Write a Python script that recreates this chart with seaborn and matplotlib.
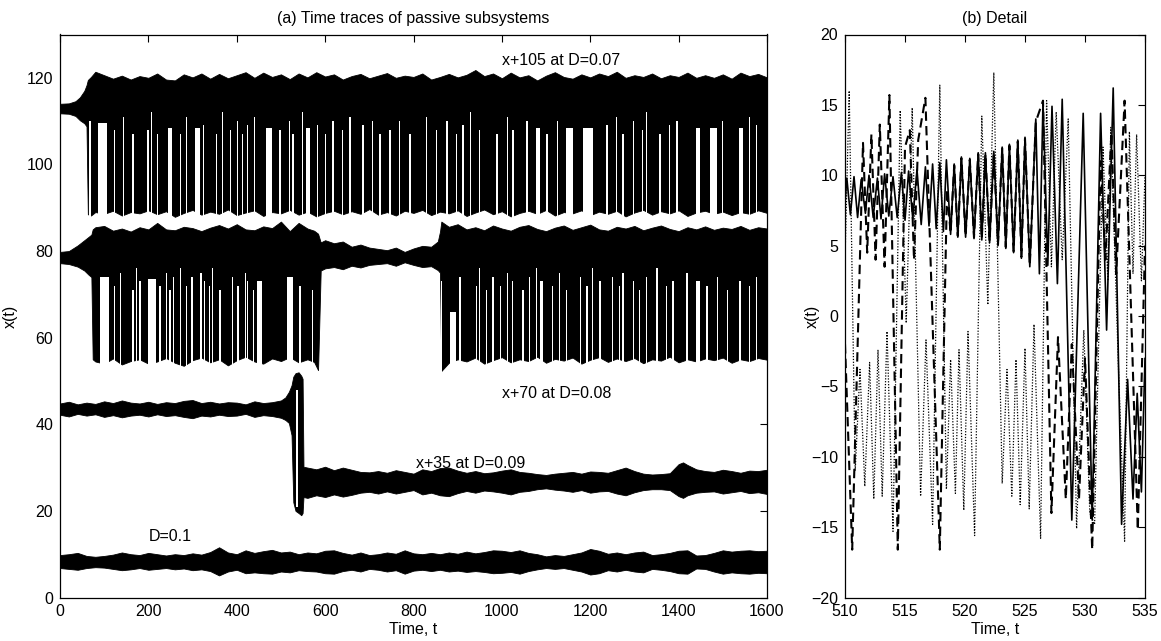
import matplotlib
matplotlib.use("Agg")
import matplotlib.pyplot as plt
import seaborn as sns
import numpy as np
import pandas as pd

# ---------------- Panel (a): envelopes of the four time traces ----------------
# trace 1: x+105 at D=0.07
t1 = [0, 20, 35, 45, 55, 60, 63, 70, 80, 100, 120, 140, 160, 180, 200, 220, 240, 260, 280, 300,
      320, 340, 360, 380, 400, 420, 440, 460, 480, 500, 520, 540, 560, 580, 600, 620, 640, 660,
      680, 700, 720, 740, 760, 780, 800, 820, 840, 860, 880, 900, 920, 940, 960, 980, 1000, 1020,
      1040, 1060, 1080, 1100, 1120, 1140, 1160, 1180, 1200, 1220, 1240, 1260, 1280, 1300, 1320,
      1340, 1360, 1380, 1400, 1420, 1440, 1460, 1480, 1500, 1520, 1540, 1560, 1580, 1600]
up1 = [114.0, 114.1, 114.6, 115.5, 117.0, 118.3, 119.5, 120.2, 121.4, 120.6, 119.8, 120.5, 119.6,
       120.4, 120.0, 121.0, 119.6, 119.4, 120.8, 120.1, 121.0, 119.8, 120.9, 119.9, 120.6, 121.3,
       120.0, 121.2, 120.2, 120.8, 119.7, 121.0, 120.1, 121.3, 120.3, 120.8, 119.6, 120.4, 120.9,
       119.9, 120.5, 121.1, 120.0, 120.5, 120.2, 121.0, 119.6, 120.2, 120.9, 120.1, 120.7, 121.8,
       120.4, 121.0, 119.9, 121.2, 120.1, 120.6, 119.4, 120.5, 121.3, 120.2, 119.8, 120.8, 120.1,
       121.0, 120.4, 121.4, 120.0, 120.6, 120.2, 121.0, 119.9, 120.6, 120.2, 121.2, 120.0, 120.6,
       120.0, 120.8, 119.8, 121.2, 120.4, 120.9, 120.1]
lo1 = [111.8, 111.7, 111.2, 110.2, 109.5, 108.8, 88.5, 88.2, 89.0, 88.6, 89.3, 88.2, 89.0, 88.7,
       89.4, 88.5, 89.2, 87.9, 88.8, 89.5, 88.4, 89.1, 88.6, 89.6, 88.3, 88.9, 89.4, 88.1, 89.0,
       88.7, 89.5, 88.4, 89.1, 88.0, 88.8, 89.3, 88.5, 89.2, 88.6, 89.7, 88.4, 89.0, 88.2, 89.3,
       88.8, 89.5, 88.3, 89.1, 88.7, 89.4, 88.1, 88.9, 89.6, 88.5, 89.2, 88.0, 88.8, 89.3, 88.6,
       89.5, 88.2, 89.0, 88.7, 89.4, 88.3, 89.1, 88.6, 89.3, 88.0, 88.9, 89.5, 88.4, 89.2, 88.7,
       89.4, 88.1, 88.9, 89.3, 88.6, 89.1, 88.3, 89.0, 88.6, 89.4, 88.8]

# trace 2: x+70 at D=0.08
t2 = [0, 20, 40, 55, 65, 71, 74, 80, 100, 120, 140, 160, 180, 200, 220, 240, 260, 280, 300, 320,
      340, 360, 380, 400, 420, 440, 460, 480, 500, 520, 540, 560, 575, 584, 590, 600, 620, 640,
      660, 680, 700, 720, 740, 760, 780, 800, 820, 840, 855, 860, 863, 880, 900, 920, 940, 960,
      980, 1000, 1020, 1040, 1060, 1080, 1100, 1120, 1140, 1160, 1180, 1200, 1220, 1240, 1260,
      1280, 1300, 1320, 1340, 1360, 1380, 1400, 1420, 1440, 1460, 1480, 1500, 1520, 1540, 1560,
      1580, 1600]
up2 = [79.8, 80.0, 81.3, 82.5, 83.3, 83.8, 85.0, 85.5, 85.8, 84.7, 85.2, 84.5, 85.5, 85.0, 86.5,
       85.0, 84.8, 85.6, 85.3, 84.6, 85.4, 86.0, 85.2, 86.2, 85.0, 84.8, 85.7, 85.3, 86.8, 84.6,
       86.5, 85.2, 84.7, 84.0, 82.0, 82.5, 81.8, 82.2, 81.0, 81.5, 80.8, 80.5, 80.2, 80.8, 79.8,
       80.6, 81.2, 81.0, 82.2, 84.5, 86.8, 85.6, 86.2, 85.0, 85.5, 84.8, 85.9, 85.2, 84.7, 85.6,
       86.0, 85.1, 84.6, 85.4, 85.9, 84.9, 85.5, 86.1, 85.0, 84.7, 85.6, 85.2, 85.8, 84.8, 85.4,
       85.9, 85.1, 84.6, 85.5, 85.0, 85.7, 84.9, 85.4, 85.1, 85.8, 84.9, 85.5, 85.2]
lo2 = [77.2, 77.0, 76.4, 75.5, 74.5, 74.0, 55.0, 54.5, 54.0, 55.2, 53.8, 54.6, 55.0, 54.0, 54.5,
       55.3, 54.2, 53.5, 54.8, 55.4, 54.3, 55.0, 53.6, 54.8, 55.6, 54.5, 54.0, 55.2, 54.6, 55.5,
       54.3, 55.0, 54.4, 52.5, 75.5, 76.0, 76.3, 75.8, 76.6, 76.2, 76.8, 77.0, 77.2, 76.6, 77.4,
       76.8, 76.3, 76.5, 75.6, 75.0, 52.3, 54.2, 55.0, 54.5, 55.4, 54.0, 54.8, 55.5, 54.3, 55.0,
       54.6, 55.6, 54.2, 55.1, 54.7, 55.4, 54.0, 54.9, 55.5, 54.4, 55.2, 54.6, 55.3, 54.1, 55.0,
       54.7, 55.6, 54.3, 55.0, 54.5, 55.2, 54.8, 55.4, 54.2, 55.0, 54.6, 55.3, 54.9]

# trace 3: x+35 at D=0.09
t3 = [0, 20, 40, 60, 80, 100, 120, 140, 160, 180, 200, 220, 240, 260, 280, 300, 320, 340, 360,
      380, 400, 420, 440, 460, 480, 500, 510, 518, 524, 528, 533, 540, 546, 549, 551, 560, 580,
      600, 620, 640, 660, 680, 700, 720, 740, 760, 780, 800, 820, 840, 860, 880, 900, 920, 940,
      960, 980, 1000, 1020, 1040, 1060, 1080, 1100, 1120, 1140, 1160, 1180, 1200, 1220, 1240,
      1260, 1280, 1300, 1320, 1340, 1360, 1380, 1400, 1410, 1420, 1440, 1460, 1480, 1500, 1520,
      1540, 1560, 1580, 1600]
up3 = [44.8, 45.2, 44.6, 45.0, 44.7, 45.3, 44.9, 45.5, 45.0, 44.8, 45.2, 44.7, 45.1, 44.9, 45.4,
       45.6, 44.9, 45.2, 44.8, 45.1, 45.0, 44.6, 45.3, 44.9, 45.1, 45.5, 46.2, 47.5, 49.0, 51.0,
       51.8, 52.0, 51.2, 50.5, 30.2, 30.0, 29.6, 30.2, 29.4, 30.0, 29.5, 29.0, 28.9, 29.2, 28.8,
       29.4, 29.0, 28.6, 29.6, 29.2, 29.9, 30.0, 29.3, 28.8, 29.2, 28.7, 28.9, 29.3, 29.6, 29.0,
       28.8, 28.5, 28.3, 28.6, 28.8, 29.0, 28.6, 29.1, 29.0, 28.8, 29.4, 30.0, 29.2, 28.6, 28.4,
       28.5, 28.7, 30.8, 31.2, 30.6, 29.6, 29.2, 29.0, 29.5, 29.2, 28.8, 29.3, 29.2, 29.5]
lo3 = [42.2, 41.8, 42.4, 42.0, 42.3, 41.7, 42.1, 41.6, 42.0, 42.2, 41.8, 42.3, 41.9, 42.1, 41.7,
       41.4, 42.0, 41.8, 42.2, 41.9, 42.0, 42.4, 41.7, 42.1, 41.9, 41.5, 41.0, 40.3, 37.5, 22.0,
       20.0, 19.5, 19.0, 19.5, 23.2, 23.0, 23.6, 23.2, 23.8, 23.3, 23.7, 24.2, 24.4, 24.0, 24.5,
       24.0, 24.4, 24.8, 23.8, 24.2, 23.6, 23.4, 24.1, 24.6, 24.2, 24.7, 24.5, 24.2, 23.8, 24.4,
       24.6, 25.0, 25.2, 24.9, 24.7, 24.4, 24.8, 24.2, 24.5, 24.6, 24.0, 23.6, 24.3, 24.8, 25.0,
       25.0, 24.8, 23.4, 23.0, 23.6, 24.2, 24.4, 24.5, 24.0, 24.3, 24.6, 24.1, 24.3, 23.9]

# trace 4: D=0.1
t4 = [0, 20, 40, 60, 80, 100, 120, 140, 160, 180, 200, 220, 240, 260, 280, 300, 320, 340, 360,
      380, 400, 420, 440, 460, 480, 500, 520, 540, 560, 580, 600, 620, 640, 660, 680, 700, 720,
      740, 760, 780, 800, 820, 840, 860, 880, 900, 920, 940, 960, 980, 1000, 1020, 1040, 1060,
      1080, 1100, 1120, 1140, 1160, 1180, 1200, 1220, 1240, 1260, 1280, 1300, 1320, 1340, 1360,
      1380, 1400, 1420, 1440, 1460, 1480, 1500, 1520, 1540, 1560, 1580, 1600]
up4 = [9.8, 10.0, 10.3, 9.6, 9.4, 9.6, 9.9, 10.4, 10.0, 9.8, 10.3, 10.0, 9.7, 10.0, 9.8, 10.2,
       9.9, 10.5, 11.6, 10.4, 10.0, 10.9, 10.3, 10.7, 11.0, 10.4, 10.6, 10.0, 10.4, 10.2, 10.8,
       10.9, 10.3, 9.9, 10.4, 9.8, 10.0, 10.4, 10.1, 10.9, 10.2, 10.0, 10.3, 10.0, 10.4, 10.1,
       10.6, 10.2, 10.5, 10.9, 10.8, 10.5, 10.9, 10.3, 10.0, 9.5, 9.8, 9.6, 10.0, 10.4, 11.2,
       10.8, 10.1, 10.4, 10.0, 10.4, 10.6, 9.8, 10.0, 10.3, 10.8, 10.9, 9.7, 9.8, 10.3, 10.9,
       10.6, 10.8, 10.9, 10.7, 10.8]
lo4 = [6.8, 6.6, 6.4, 6.8, 7.0, 6.9, 6.6, 6.3, 6.5, 6.8, 6.4, 6.6, 6.8, 6.5, 6.7, 6.3, 6.5, 6.1,
       5.1, 6.0, 6.4, 5.6, 5.8, 5.6, 5.5, 6.0, 5.8, 6.3, 6.1, 6.0, 5.6, 5.5, 6.1, 6.4, 6.0, 6.6,
       6.4, 6.0, 6.3, 5.5, 6.2, 6.4, 6.1, 6.4, 6.0, 6.2, 5.9, 6.1, 5.9, 5.6, 5.7, 5.9, 5.5, 6.1,
       6.5, 6.8, 6.6, 6.8, 6.4, 6.0, 5.3, 5.6, 6.3, 6.0, 6.4, 6.0, 5.8, 6.6, 6.4, 6.1, 5.6, 5.5,
       6.7, 6.6, 6.0, 5.5, 5.8, 5.6, 5.5, 5.7, 5.6]

# intervals where the trace stays in the upper wing (white gaps in the black band)
gap1_t = [68, 96, 124, 143, 165, 181, 199, 208, 220, 233, 249, 272, 287, 311, 324, 355, 367, 385,
          401, 414, 425, 441, 473, 498, 520, 527, 548, 561, 582, 600, 618, 640, 656, 679, 686,
          708, 724, 731, 747, 769, 792, 808, 830, 853, 876, 898, 912, 928, 950, 973, 989, 1012,
          1025, 1041, 1057, 1082, 1102, 1125, 1154, 1195, 1238, 1260, 1274, 1297, 1319, 1328,
          1358, 1380, 1396, 1419, 1444, 1478, 1500, 1523, 1541, 1561, 1577]
gap1_dur = [3, 20, 3, 2, 3, 2, 3, 2, 3, 2, 9, 3, 2, 12, 3, 2, 3, 2, 3, 2, 3, 2, 15, 3, 2, 3, 2, 8,
            3, 2, 3, 2, 3, 2, 3, 2, 3, 2, 3, 2, 3, 2, 3, 2, 3, 2, 3, 2, 3, 2, 3, 2, 3, 2, 3, 8, 3,
            2, 16, 22, 3, 2, 3, 2, 3, 2, 3, 2, 3, 2, 8, 16, 3, 2, 8, 3, 2]
gap1_top = [110, 109.5, 108, 111, 107, 110, 108, 112, 107, 109, 108.5, 107, 111, 108.5, 109, 107,
            112, 108, 110, 107, 109, 111, 108.5, 108, 110, 107, 112, 108.5, 109, 107, 110, 108,
            111, 107, 109, 110, 107, 112, 108, 110, 107, 109, 111, 108, 110, 107, 109, 112, 108,
            110, 107, 111, 108, 109, 110, 108.5, 107, 110, 108.5, 108.5, 109, 111, 107, 110, 108,
            112, 107, 109, 110, 108, 108.5, 108.5, 110, 107, 108.5, 111, 109]

gap2_t = [101, 124, 136, 165, 174, 181, 208, 226, 242, 249, 256, 272, 287, 299, 310, 319, 328,
          339, 346, 362, 391, 403, 419, 425, 437, 452, 520, 543, 550, 572, 864, 890, 905, 943,
          950, 966, 980, 996, 1012, 1025, 1048, 1063, 1079, 1090, 1115, 1131, 1147, 1177, 1193,
          1206, 1222, 1238, 1251, 1267, 1274, 1297, 1312, 1328, 1351, 1373, 1387, 1403, 1419,
          1444, 1464, 1487, 1510, 1523, 1539, 1561, 1577]
gap2_dur = [22, 3, 2, 3, 2, 3, 18, 3, 2, 3, 2, 3, 2, 3, 2, 3, 2, 3, 2, 3, 2, 3, 2, 3, 2, 12, 14,
            3, 2, 3, 3, 14, 3, 2, 3, 2, 3, 2, 3, 2, 3, 2, 3, 8, 3, 2, 3, 2, 3, 2, 3, 2, 3, 2, 3,
            2, 3, 2, 3, 2, 3, 2, 3, 8, 3, 2, 3, 2, 3, 2, 3]
gap2_top = [74, 72, 75, 71, 76, 73, 73.5, 72, 75, 71, 74, 76, 72, 74, 71, 75, 73, 72, 76, 71, 74,
            72, 75, 73, 71, 73, 74, 72, 75, 71, 73, 66, 74, 72, 76, 71, 74, 72, 75, 73, 71, 74,
            76, 73, 72, 75, 71, 74, 72, 76, 73, 71, 74, 72, 75, 73, 71, 74, 76, 72, 73, 71, 75,
            73, 72, 74, 71, 75, 73, 72, 74]

gap3_t = [536]
gap3_dur = [4]
gap3_top = [48]

# ---------------- Panel (b): detail, extrema of the three traces ----------------
solid_t = [510.0, 510.15, 510.45, 510.75, 511.05, 511.35, 511.7, 512.0, 512.35, 512.7, 513.0,
           513.3, 513.65, 514.0, 514.35, 514.7, 515.0, 515.3, 515.65, 516.0, 516.35, 516.7,
           517.0, 517.3, 517.6, 517.9, 518.2, 518.45, 518.8, 519.1, 519.4, 519.7, 520.05, 520.4,
           520.75, 521.1, 521.4, 521.7, 522.05, 522.4, 522.75, 523.1, 523.4, 523.7, 524.05,
           524.4, 524.7, 525.0, 525.4, 525.9, 526.2, 526.5, 526.9, 527.25, 527.7, 528.1, 528.9,
           529.85, 530.6, 531.3, 531.8, 532.35, 533.05, 533.55, 534.0, 534.35, 534.7, 535.0]
solid_x = [8.0, 9.8, 7.2, 9.9, 7.0, 9.7, 7.3, 10.0, 7.0, 9.8, 6.9, 10.1, 7.1, 9.9, 7.0, 10.2,
           6.8, 10.3, 6.9, 10.4, 6.5, 10.6, 6.4, 10.8, 6.2, 10.9, 6.0, 11.1, 5.8, 10.8, 5.6, 11.3,
           5.6, 11.2, 5.5, 11.6, 5.4, 11.6, 5.2, 11.7, 5.0, 12.0, 4.8, 12.2, 4.5, 12.5, 4.1, 12.7,
           3.5, 14.0, 3.0, 15.2, 3.6, 14.9, 2.3, 15.4, -14.5, 14.4, -14.5, 14.4, -1.0, 16.2,
           -14.8, -4.5, -13.0, -5.5, -12.5, -3.0]

dash_t = [510.0, 510.6, 511.5, 511.85, 512.2, 512.55, 512.9, 513.3, 513.7, 514.4, 515.0, 515.4,
          515.75, 516.1, 516.7, 517.9, 518.5, 518.8, 519.1, 519.4, 519.7, 520.05, 520.4, 520.75,
          521.1, 521.4, 521.7, 522.05, 522.4, 522.75, 523.1, 523.4, 523.7, 524.05, 524.4, 524.7,
          525.0, 525.4, 525.9, 526.5, 527.2, 527.75, 528.4, 528.9, 529.5, 530.0, 530.6, 531.3,
          531.7, 532.2, 532.6, 533.3, 534.4, 535.0]
dash_x = [-2.0, -16.6, 12.3, 4.5, 12.9, 4.0, 13.6, 3.5, 15.7, -16.6, 12.0, 13.2, 4.0, 12.5,
          15.5, -16.6, 9.0, 5.9, 10.7, 5.7, 11.2, 5.7, 11.1, 5.6, 11.5, 5.5, 11.5, 5.3, 11.6,
          5.1, 11.9, 4.9, 12.1, 4.6, 12.4, 4.2, 12.6, 3.6, 13.8, 15.3, -14.0, -1.5, -13.0, -2.0,
          -13.0, -3.0, -16.6, 11.0, 4.0, 13.0, 3.0, 15.3, -15.2, 5.0]

dot_t = [510.0, 510.35, 510.85, 511.25, 511.65, 512.05, 512.4, 512.75, 513.1, 513.5, 514.0,
         514.6, 515.1, 515.6, 516.3, 516.75, 517.3, 517.9, 518.45, 518.8, 519.2, 519.5, 519.9,
         520.25, 520.8, 521.4, 521.9, 522.4, 523.1, 523.5, 523.9, 524.25, 524.6, 525.0, 525.35,
         525.75, 526.3, 526.8, 527.2, 527.6, 528.1, 528.6, 529.3, 529.9, 530.4, 530.8, 531.5,
         531.9, 532.15, 532.8, 533.3, 533.7, 534.0, 534.3, 534.7, 535.0]
dot_x = [4.0, 16.0, -11.0, -3.8, -12.1, -3.3, -13.0, -2.4, -12.8, -1.1, -15.3, 14.6, -0.5, 14.8,
         -12.8, -1.7, -14.8, 16.4, -12.3, -3.1, -12.6, -2.4, -13.8, -1.1, -15.6, 14.2, 0.8, 17.3,
         -11.9, -3.8, -12.8, -3.1, -13.4, -2.3, -13.7, -0.6, -15.8, 15.3, 3.5, 14.5, 4.0, 14.0,
         -15.1, -1.0, -14.0, -14.8, 12.0, 2.5, 13.4, -4.0, -16.0, 13.1, 3.0, 12.9, 2.5, 10.0]

labels_a = ["x+105 at D=0.07", "x+70 at D=0.08", "x+35 at D=0.09", "D=0.1"]
label_t = [1000, 1000, 805, 200]
label_y = [124, 47, 31, 14]

# ---------------- figure ----------------
sns.set_style("white")
plt.rcParams["font.family"] = ["Liberation Sans", "DejaVu Sans"]
plt.rcParams["axes.linewidth"] = 0.9
plt.rcParams["text.color"] = "black"
plt.rcParams["axes.labelcolor"] = "black"
plt.rcParams["axes.titlecolor"] = "black"
plt.rcParams["xtick.color"] = "black"
plt.rcParams["ytick.color"] = "black"
FS = 11.5

fig = plt.figure(figsize=(11.61, 6.41), dpi=100)
ax1 = fig.add_axes([60 / 1161, 43.5 / 641, 707 / 1161, 563 / 641])
ax2 = fig.add_axes([845 / 1161, 43.5 / 641, 300 / 1161, 563 / 641])

traces = [(t1, up1, lo1, gap1_t, gap1_dur, gap1_top, 86.0),
          (t2, up2, lo2, gap2_t, gap2_dur, gap2_top, 52.0),
          (t3, up3, lo3, gap3_t, gap3_dur, gap3_top, 21.0),
          (t4, up4, lo4, [], [], [], 0.0)]
for tt, uu, ll, gt, gd, gtop, gbot in traces:
    ax1.fill_between(tt, ll, uu, color="black", lw=0.6, edgecolor="black")
    if gt:
        ax1.bar(gt, np.array(gtop) - gbot, width=gd, bottom=gbot, color="white", lw=0,
                align="center")

for s, tx, ty in zip(labels_a, label_t, label_y):
    ax1.text(tx, ty, s, fontsize=FS, va="center", ha="left", color="black")

ax1.set_xlim(0, 1600)
ax1.set_ylim(0, 130)
ax1.set_xticks([0, 200, 400, 600, 800, 1000, 1200, 1400, 1600])
ax1.set_yticks([0, 20, 40, 60, 80, 100, 120])
ax1.set_title("(a) Time traces of passive subsystems", fontsize=FS, pad=8, color="black")
ax1.set_xlabel("Time, t", fontsize=FS, labelpad=2, color="black")
ax1.set_ylabel("x(t)", fontsize=FS, color="black")
ax1.yaxis.set_label_coords(-0.060, 0.5)

sns.lineplot(x=solid_t, y=solid_x, ax=ax2, color="black", lw=1.2, estimator=None, sort=False)
sns.lineplot(x=dash_t, y=dash_x, ax=ax2, color="black", lw=1.5, estimator=None, sort=False,
             linestyle=(0, (4.5, 2.5)))
sns.lineplot(x=dot_t, y=dot_x, ax=ax2, color="black", lw=0.9, estimator=None, sort=False,
             linestyle=(0, (1, 1.3)))
ax2.set_xlim(510, 535)
ax2.set_ylim(-20, 20)
ax2.set_xticks([510, 515, 520, 525, 530, 535])
ax2.set_yticks([-20, -15, -10, -5, 0, 5, 10, 15, 20])
ax2.set_title("(b) Detail", fontsize=FS, pad=8, color="black")
ax2.set_xlabel("Time, t", fontsize=FS, labelpad=2, color="black")
ax2.set_ylabel("x(t)", fontsize=FS, color="black")
ax2.yaxis.set_label_coords(-0.085, 0.5)

for ax in (ax1, ax2):
    ax.tick_params(direction="in", top=True, right=True, length=5, width=0.8,
                   labelsize=FS, colors="black", pad=5)
    for sp in ax.spines.values():
        sp.set_color("black")
        sp.set_linewidth(0.9)

fig.savefig("out.png", dpi=100, facecolor="white")
